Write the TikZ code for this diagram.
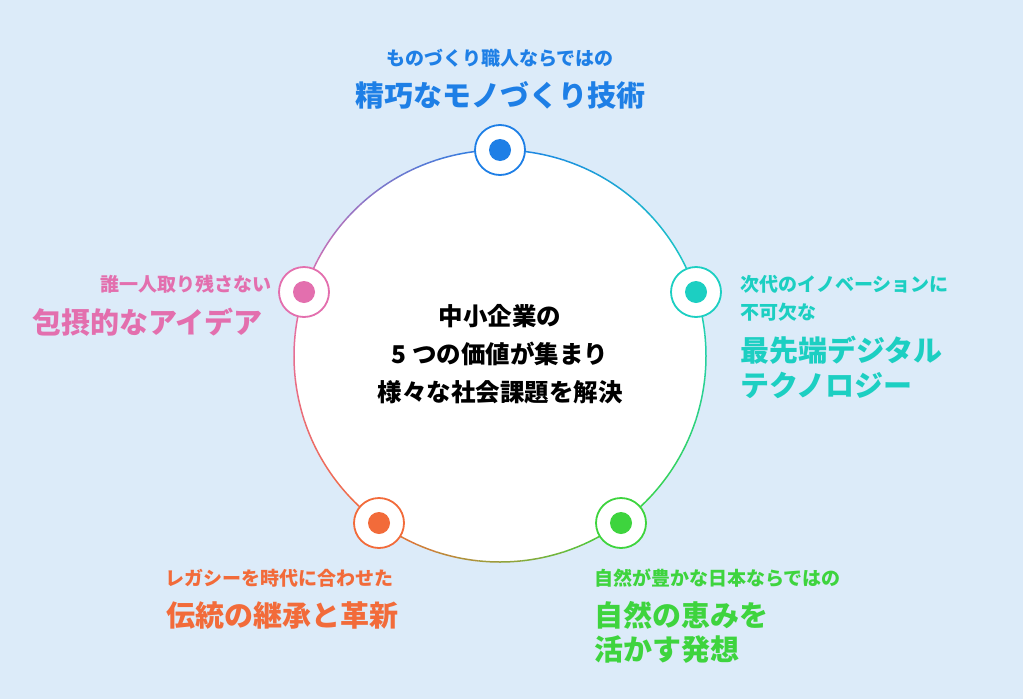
\documentclass[tikz,border=0pt]{standalone}
\usepackage{fontspec}
\setmainfont{Noto Sans CJK JP}
\usetikzlibrary{calc}
\definecolor{bg}{HTML}{DCEBF9}
\definecolor{cblue}{HTML}{1E7FE6}
\definecolor{cteal}{HTML}{1CCFC2}
\definecolor{cgreen}{HTML}{3ED43E}
\definecolor{corange}{HTML}{F26B3A}
\definecolor{cpink}{HTML}{E36FAE}
\begin{document}
\begin{tikzpicture}[x=1pt,y=-1pt,
  dotnode/.style={circle,draw=#1,line width=1.8pt,fill=white,minimum size=50pt,inner sep=0pt,
    path picture={\fill[#1] (path picture bounding box.center) circle (11pt);}},
  small/.style={text=#1,font=\bfseries\fontsize{19}{22}\selectfont,inner sep=0pt},
  big/.style={text=#1,font=\bfseries\fontsize{29}{36}\selectfont,inner sep=0pt}]
\fill[bg] (0,0) rectangle (1023,699);
\useasboundingbox (0,0) rectangle (1023,699);
\coordinate (c) at (500,356);
\fill[white] (c) circle (206);
% gradient ring
\foreach \a/\b/\ca/\cb in {90/18/cblue/cteal, 18/-54/cteal/cgreen, -54/-126/cgreen/corange, -126/-198/corange/cpink, 162/90/cpink/cblue}{
  \foreach \i in {0,...,11}{
    \pgfmathsetmacro{\sa}{\a+(\b-\a)*\i/12}
    \pgfmathsetmacro{\sb}{\a+(\b-\a)*(\i+1)/12}
    \pgfmathsetmacro{\p}{100-100*(\i+0.5)/12}
    \draw[\ca!\p!\cb,line width=1.5pt] ($(c)+(\sa:206 and -206)$) arc[start angle=-\sa,end angle=-\sb,radius=206];
  }
}
\node[dotnode=cblue] (n1) at ($(c)+(0,-206)$) {};
\node[dotnode=cteal] (n2) at ($(c)+(196,-64)$) {};
\node[dotnode=cgreen] (n3) at ($(c)+(121,167)$) {};
\node[dotnode=corange] (n4) at ($(c)+(-121,167)$) {};
\node[dotnode=cpink] (n5) at ($(c)+(-196,-64)$) {};
\node[font=\bfseries\fontsize{24.5}{38}\selectfont,align=center] (center) at (500,354) {中小企業の\\5 つの価値が集まり\\様々な社会課題を解決};
\node[small=cblue] (t1) at (500,58) {ものづくり職人ならではの};
\node[big=cblue] (t1b) at (500,95) {精巧なモノづくり技術};
\node[small=cpink,anchor=east] (t5) at (272,284) {誰一人取り残さない};
\node[big=cpink,anchor=east] (t5b) at (263,322) {包摂的なアイデア};
\node[small=cteal,anchor=west] (t2) at (740,284) {次代のイノベーションに};
\node[small=cteal,anchor=west] (t2a) at (740,312) {不可欠な};
\node[big=cteal,anchor=west] (t2b) at (740,350) {最先端デジタル};
\node[big=cteal,anchor=west] (t2c) at (740,385) {テクノロジー};
\node[small=corange] (t4) at (279,578) {レガシーを時代に合わせた};
\node[big=corange] (t4b) at (282,615) {伝統の継承と革新};
\node[small=cgreen,anchor=west] (t3) at (594,578) {自然が豊かな日本ならではの};
\node[big=cgreen,anchor=west] (t3b) at (594,615) {自然の恵みを};
\node[big=cgreen,anchor=west] (t3c) at (594,650) {活かす発想};
\end{tikzpicture}
\end{document}
